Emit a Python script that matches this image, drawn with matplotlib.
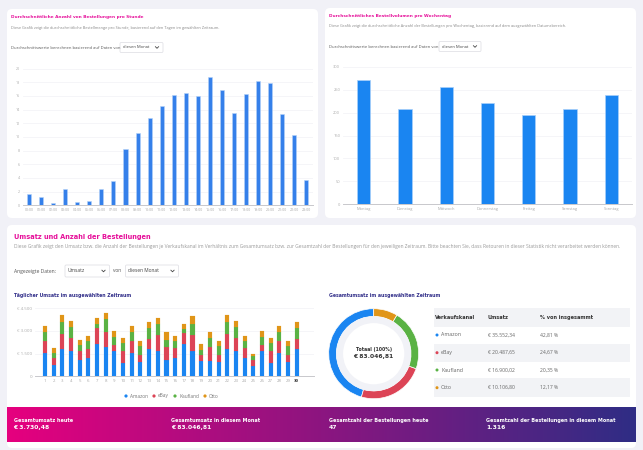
import numpy as np
import matplotlib
matplotlib.use("Agg")
import matplotlib.pyplot as plt
from matplotlib.patches import FancyBboxPatch, Rectangle, Circle

W, H = 643, 450

hours = ["%02d:00" % h for h in range(24)]
hour_orders = [1.6, 1.2, 0.4, 2.4, 0.5, 0.7, 2.35, 3.6, 8.2, 10.5, 12.8, 14.5,
               16.15, 16.45, 16.05, 18.7, 16.85, 13.5, 16.2, 18.15, 17.85, 13.4, 10.35, 3.7]

weekdays = ["Montag", "Dienstag", "Mittwoch", "Donnerstag", "Freitag", "Samstag", "Sonntag"]
weekday_orders = [272, 208, 256, 222, 195, 207, 239]

days = list(range(1, 31))
amazon = [1544, 750, 1809, 1699, 1059, 1191, 2162, 1919, 1699, 904, 1544, 949, 1787, 1699, 1059,
          1191, 2162, 1699, 1015, 1037, 949, 1809, 1699, 1191, 662, 1699, 904, 1544, 949, 1787]
ebay = [816, 463, 993, 838, 596, 640, 1015, 1037, 375, 794, 816, 485, 684, 1059, 882,
        662, 728, 1059, 375, 926, 485, 993, 838, 662, 441, 375, 794, 816, 485, 684]
kaufland = [596, 331, 794, 728, 441, 507, 309, 860, 552, 485, 596, 552, 728, 684, 463,
            485, 221, 684, 353, 574, 574, 794, 728, 485, 243, 552, 485, 596, 552, 728]
otto = [375, 331, 441, 375, 331, 309, 353, 353, 353, 331, 375, 353, 397, 397, 529,
        309, 331, 529, 397, 375, 331, 441, 375, 309, 154, 353, 331, 375, 353, 397]

channels = ["Amazon", "eBay", "Kaufland", "Otto"]
channel_colors = ["#1a85f1", "#dc4456", "#5ab244", "#e09518"]
channel_sales = ["€ 35.552,34", "€ 20.487,65", "€ 16.900,02", "€ 10.106,80"]
share_labels = ["42,81 %", "24,67 %", "20,35 %", "12,17 %"]
# the ring in the picture is not quite the table's percentages, read from the arcs
ring_shares = [45.6, 24.0, 21.8, 8.6]

body = "Open Sans"
head = "DejaVu Sans"

fig = plt.figure(figsize=(W / 100, H / 100), dpi=100, facecolor="#f1f1f7")


def add_ax(x0, y0, x1, y1, **kw):
    # pixel box with the origin at the top left
    return fig.add_axes([x0 / W, 1 - y1 / H, (x1 - x0) / W, (y1 - y0) / H], **kw)


bg = add_ax(0, 0, W, H)
bg.axis("off")


def panel(x0, y0, x1, y1):
    bg.add_patch(FancyBboxPatch((x0 + 5, y0 + 5), x1 - x0 - 10, y1 - y0 - 10,
                                boxstyle="round,pad=5,rounding_size=5", fc="white", ec="none"))


def label(x, y, s, size=3.0, color="#555555", weight="normal", family=body, ha="left"):
    bg.text(x, y, s, fontsize=size, color=color, weight=weight, family=family, ha=ha, va="center", zorder=5)


def select(x0, x1, y0, y1, s, size=3.0):
    bg.add_patch(FancyBboxPatch((x0, y0), x1 - x0, y1 - y0, boxstyle="round,pad=0,rounding_size=1.2",
                                fc="white", ec="#dcdce2", lw=0.5))
    label(x0 + 3, (y0 + y1) / 2, s, size=size, color="#444444")
    xm = x1 - 6
    ym = (y0 + y1) / 2
    bg.plot([xm - 1.6, xm, xm + 1.6], [ym - 0.8, ym + 0.8, ym - 0.8], color="#444444", lw=0.6)


panel(7, 9, 318, 218)
panel(325, 8, 636, 218)
panel(7, 225, 636, 448)

pink = "#e6109a"
label(11, 17, "Durchschnittliche Anzahl von Bestellungen pro Stunde", 3.07, pink, "bold", head)
label(11, 28, "Diese Grafik zeigt die durchschnittliche Bestellmenge pro Stunde, basierend auf den Tagen im gewählten Zeitraum.", 2.8, "#888888")
label(11, 48, "Durchschnittswerte berechnen basierend auf Daten von", 3.0)
select(120, 163, 42.5, 52.5, "diesen Monat")

label(329, 16, "Durchschnittliches Bestellvolumen pro Wochentag", 3.1, pink, "bold", head)
label(329, 26.5, "Diese Grafik zeigt die durchschnittliche Anzahl der Bestellungen pro Wochentag, basierend auf dem ausgewählten Datumsbereich.", 2.8, "#888888")
label(329, 46.5, "Durchschnittswerte berechnen basierend auf Daten von", 3.0)
select(439, 481, 41.5, 51.5, "diesen Monat")

label(13.5, 236.5, "Umsatz und Anzahl der Bestellungen", 4.75, pink, "bold", head)
label(13.5, 246.5, "Diese Grafik zeigt den Umsatz bzw. die Anzahl der Bestellungen je Verkaufskanal im Verhältnis zum Gesamtumsatz bzw. zur Gesamtzahl der Bestellungen für den jeweiligen Zeitraum. Bitte beachten Sie, dass Retouren in dieser Statistik nicht verarbeitet werden können.", 3.5, "#999999")
label(13.5, 271, "Angezeigte Daten:", 3.65)
select(65, 109.5, 265, 277, "Umsatz", 3.5)
label(113.3, 271, "von", 3.5)
select(125.5, 178.5, 265, 277, "diesen Monat", 3.5)

navy = "#33308a"
label(13.5, 295, "Täglicher Umsatz im ausgewählten Zeitraum", 3.34, navy, "bold", head)
label(329, 295, "Gesamtumsatz im ausgewählten Zeitraum", 3.34, navy, "bold", head)


def style_axes(ax, size):
    ax.spines[["top", "right", "left"]].set_visible(False)
    ax.spines["bottom"].set_color("#c8c8cc")
    ax.spines["bottom"].set_linewidth(0.7)
    ax.grid(axis="y", color="#f4f4f7", lw=0.6)
    ax.set_axisbelow(True)
    ax.tick_params(length=0, labelsize=size, labelcolor="#aaaaaa", pad=2)
    for t in ax.get_xticklabels() + ax.get_yticklabels():
        t.set_family(body)


# bars per hour
ax1 = add_ax(23, 68.5, 313, 205.3)
ax1.bar(hours, hour_orders, width=0.34, color="#3580ea", edgecolor="#b4d2f8", linewidth=0.4)
ax1.set_xlim(-0.5, 23.55)
ax1.set_ylim(0, 20)
ax1.set_yticks(range(0, 21, 2))
style_axes(ax1, 2.6)

# bars per weekday
ax2 = add_ax(343, 67, 632, 204)
ax2.bar(weekdays, weekday_orders, width=0.32, color="#1a85f1", edgecolor="#a8d0fa", linewidth=0.5)
ax2.set_xlim(-0.5, 6.5)
ax2.set_ylim(0, 300)
ax2.set_yticks(range(0, 301, 50))
style_axes(ax2, 2.9)

# daily stacked sales
ax3 = add_ax(35, 308.3, 314, 376.3)
bottom = np.zeros(len(days))
for name, values, color in zip(channels, [amazon, ebay, kaufland, otto], channel_colors):
    ax3.bar(days, values, bottom=bottom, width=0.47, color=color, edgecolor=color + "66", linewidth=0.3)
    bottom += np.array(values)
ax3.set_xlim(-0.15, 32)
ax3.set_ylim(0, 4500)
ax3.set_xticks(days)
ax3.set_yticks([0, 1500, 3000, 4500])
ax3.set_yticklabels(["0", "€ 1.500", "€ 3.000", "€ 4.500"])
style_axes(ax3, 3.2)
ax3.get_xticklabels()[-1].set_color("#333333")
ax3.get_xticklabels()[-1].set_weight("bold")

# legend of the daily chart
for dot_x, name, color in zip([126, 154, 175, 205], channels, channel_colors):
    bg.add_patch(Circle((dot_x, 396), 1.6, fc=color, ec="none"))
    label(dot_x + 4, 396, name, 3.4, "#777777")

# donut
ax4 = add_ax(373.7 - 46, 353.7 - 46, 373.7 + 46, 353.7 + 46)
ax4.pie(ring_shares, colors=channel_colors, startangle=90, counterclock=True, radius=45,
        wedgeprops=dict(width=7.7, edgecolor="white", linewidth=0.5))
ax4.pie([1], colors=["#f1f2f7"], radius=37.3, wedgeprops=dict(width=6.7))
ax4.set_xlim(-46, 46)
ax4.set_ylim(-46, 46)
ax4.text(0, 4, "Totaal (100%)", fontsize=3.3, weight="bold", family=head, color="#333333", ha="center", va="center")
ax4.text(0, -3, "€ 83.046,81", fontsize=4.3, weight="bold", family=head, color="#333333", ha="center", va="center")

# table
table_x0, table_x1 = 433.7, 629.7
for y0, y1 in [(308.3, 327), (343.7, 362), (378, 397)]:
    bg.add_patch(Rectangle((table_x0, y0), table_x1 - table_x0, y1 - y0, fc="#f2f3f6", ec="none"))
for x, s in zip([435, 488, 540.5], ["Verkaufskanal", "Umsatz", "% von insgesammt"]):
    label(x, 317.7, s, 3.6, "#333333", "bold", head)
row_y = [335, 352.7, 370, 387.7]
for y, name, color, sale, share in zip(row_y, channels, channel_colors, channel_sales, share_labels):
    bg.add_patch(Circle((437, y), 1.5, fc=color, ec="none"))
    label(441, y, name, 3.8, "#666666")
    label(488, y, sale, 3.6, "#666666")
    label(540.5, y, share, 3.6, "#666666")

# gradient banner
t = np.linspace(0, 1, 256)
stops = np.array([[0xe6, 0x00, 0x7e], [0x8c, 0x15, 0x80], [0x2f, 0x2d, 0x85]]) / 255
grad = np.stack([np.interp(t, [0, 0.5, 1], stops[:, i]) for i in range(3)], axis=1)[None, :, :]
bg.imshow(grad, extent=(7, 636, 441.7, 406.7), aspect="auto", zorder=3)

for x, top, value in zip([13.5, 171, 329, 486],
                         ["Gesamtumsatz heute", "Gesamtumsatz in diesem Monat",
                          "Gesamtzahl der Bestellungen heute", "Gesamtzahl der Bestellungen in diesem Monat"],
                         ["€ 3.730,48", "€ 83.046,81", "47", "1.316"]):
    label(x, 420.7, top, 3.5, "white", "bold", head)
    label(x, 427.3, value, 4.3, "white", "bold", head)

bg.set_xlim(0, W)
bg.set_ylim(H, 0)
for a in [ax1, ax2, ax3, ax4]:
    a.patch.set_alpha(0)

fig.savefig("out.png", dpi=100, facecolor=fig.get_facecolor())
